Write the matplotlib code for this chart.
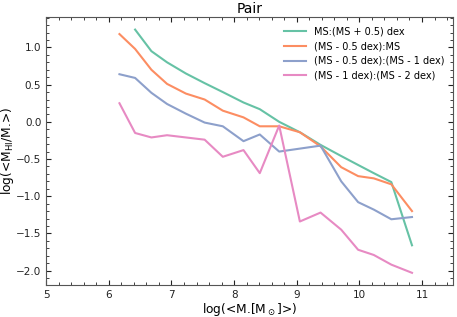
import matplotlib
matplotlib.use('Agg')
from matplotlib import pyplot as plt
from matplotlib.ticker import AutoMinorLocator

# bin centres in log stellar mass
mass = [6.17, 6.42, 6.68, 6.93, 7.23, 7.53, 7.82, 8.15, 8.41, 8.72,
        9.05, 9.38, 9.71, 9.98, 10.23, 10.51, 10.84]

ms_plus = [1.24, 0.95, 0.80, 0.65, 0.52, 0.40, 0.26, 0.17, 0.00,
           -0.14, -0.31, -0.46, -0.58, -0.69, -0.81, -1.66]
ms_minus05 = [1.18, 0.98, 0.70, 0.51, 0.38, 0.30, 0.15, 0.06, -0.06, -0.06,
              -0.14, -0.33, -0.61, -0.73, -0.76, -0.84, -1.20]
ms_05_1 = [0.64, 0.59, 0.39, 0.24, 0.11, -0.01, -0.06, -0.26, -0.17, -0.40,
           -0.36, -0.32, -0.80, -1.08, -1.18, -1.31, -1.28]
ms_1_2 = [0.25, -0.15, -0.21, -0.18, -0.21, -0.24, -0.47, -0.38, -0.69, -0.05,
          -1.34, -1.22, -1.45, -1.72, -1.79, -1.92, -2.03]

labels = ['MS:(MS + 0.5) dex', '(MS - 0.5 dex):MS',
          '(MS - 0.5 dex):(MS - 1 dex)', '(MS - 1 dex):(MS - 2 dex)']
colors = ['#66c2a5', '#fc8d62', '#8da0cb', '#e78ac3']

fig = plt.figure(figsize=(4.57, 3.17), dpi=100)
ax = fig.add_axes([0.101, 0.101, 0.891, 0.844])

ax.plot(mass[1:], ms_plus, color=colors[0], lw=1.5, label=labels[0])
ax.plot(mass, ms_minus05, color=colors[1], lw=1.5, label=labels[1])
ax.plot(mass, ms_05_1, color=colors[2], lw=1.5, label=labels[2])
ax.plot(mass, ms_1_2, color=colors[3], lw=1.5, label=labels[3])

ax.set_xlim(5, 11.5)
ax.set_title('Pair', fontsize=10, pad=3)
ax.set_xlabel(r'log(<M.[M$_\odot$]>)', fontsize=8.8, labelpad=1)
ax.set_ylabel(r'log(<M$_{\rm HI}$/M.>)', fontsize=8.8, labelpad=0)

ax.xaxis.set_minor_locator(AutoMinorLocator())
ax.yaxis.set_minor_locator(AutoMinorLocator())
ax.tick_params(which='both', direction='in', top=True, right=True,
               labelsize=7.5, colors='#222222')
ax.tick_params(which='major', length=3.5)
ax.tick_params(which='minor', length=2)
for s in ax.spines.values():
    s.set_color('#555555')

ax.legend(loc='upper right', frameon=False, fontsize=7, handlelength=2.3)

plt.savefig('out.png', dpi=100)
